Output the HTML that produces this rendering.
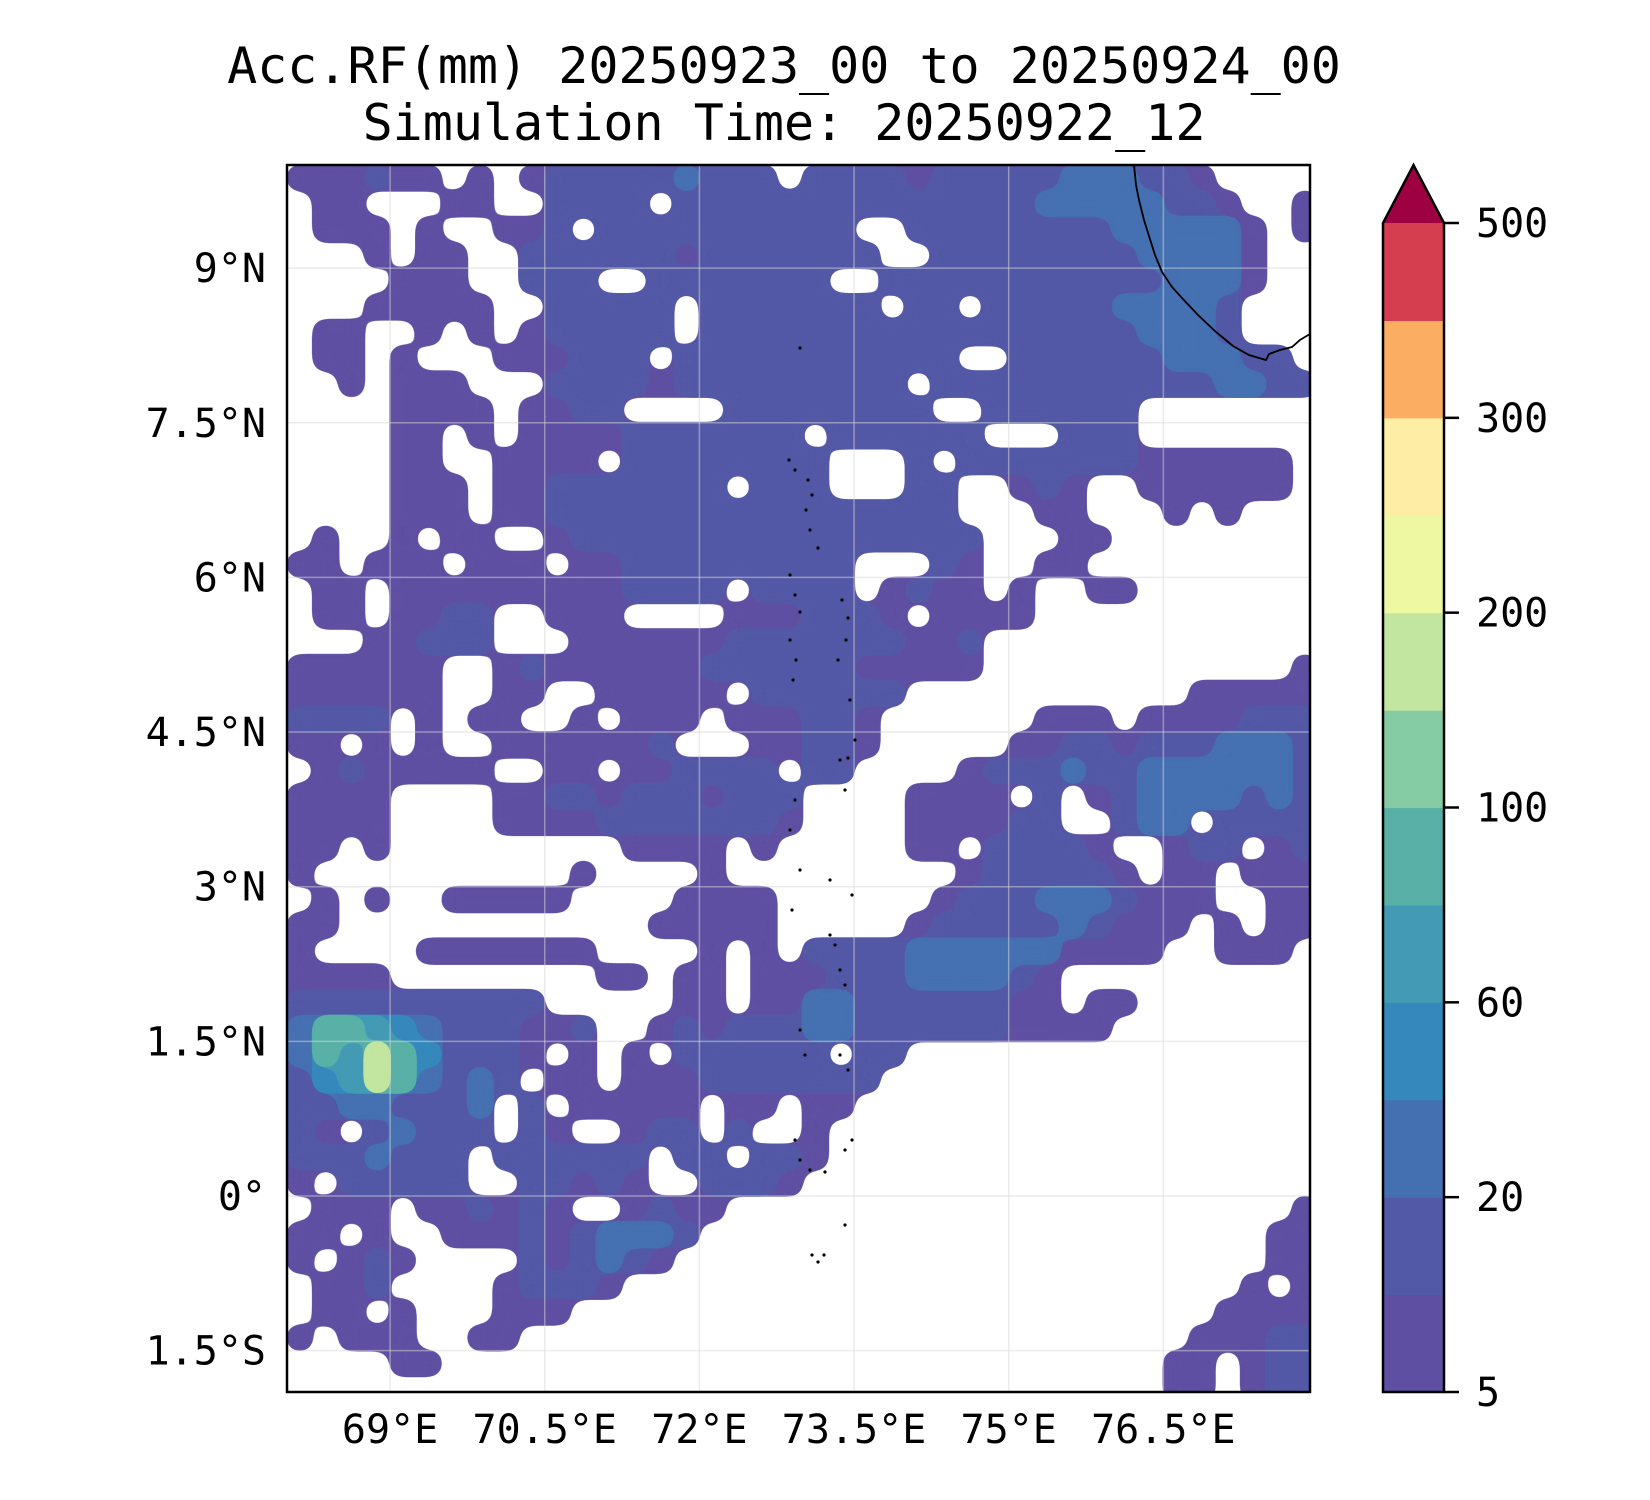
<!DOCTYPE html>
<html>
<head>
<meta charset="utf-8">
<style>
html,body{margin:0;padding:0;background:#fff;}
svg{display:block;}
text{font-family:"DejaVu Sans Mono","Liberation Mono",monospace;fill:#000;}
</style>
</head>
<body>
<svg id="chart" width="1650" height="1500" viewBox="0 0 1650 1500" xmlns="http://www.w3.org/2000/svg">
  <defs>
    <clipPath id="axclip"><rect x="287" y="165" width="1023" height="1227"/></clipPath>
    <filter id="goo" filterUnits="userSpaceOnUse" x="250" y="130" width="1100" height="1300">
      <feGaussianBlur in="SourceGraphic" stdDeviation="8" result="b"/>
      <feComponentTransfer>
        <feFuncA type="linear" slope="30" intercept="-14"/>
      </feComponentTransfer>
    </filter>
  </defs>
  <text x="784" y="83" font-size="50" text-anchor="middle">Acc.RF(mm) 20250923_00 to 20250924_00</text>
  <text x="784" y="140" font-size="50" text-anchor="middle">Simulation Time: 20250922_12</text>
  <g id="map" clip-path="url(#axclip)">
    <g id="fields"></g>
    <g id="grid"></g>
    <g id="coast"></g>
  </g>
  <rect x="287" y="165" width="1023" height="1227" fill="none" stroke="#000" stroke-width="2.5"/>
  <g id="xlabels"></g>
  <g id="ylabels"></g>
  <g id="cbar"></g>
</svg>
<script>
const NS = "http://www.w3.org/2000/svg";
// grid: rows from lat 10 (top) downward in 0.25 deg steps; cols from lon 68 in 0.25 deg steps
const gridRows = [
"1112110101222223222022221222223332210000",
"0110001100222202222222222222233333221001",
"0111010011202222222222002222222233333101",
"0001011002222221222222200222222223333100",
"0000111002220022222220022222222222333100",
"0001111100222220222222202202222233332000",
"0110010101222220222222222222222223332000",
"0110100011122202222222222200222222333220",
"0010111000222212222222220222222222223322",
"0000111101122000022222222002222220000000",
"0000110101111222222202222220002220000000",
"0000110011110222222220002022222221111110",
"0000111011222222202220002200121001111110",
"0000111011222222222222222200011000101000",
"0100101100122222222222222220001100000000",
"1101110111011222222222000210011000000000",
"0110111111111222202222012110100110000000",
"0110112200111000011122210111100000000000",
"0001122200011111122222221120000000000000",
"1111110012111111222222111110000000000001",
"1111110011001111102222220000000000011111",
"2222010110010111011122100000011101111222",
"1101010011111120001122100000112212223332",
"0121111100110112222022000012223223333332",
"1111000011221222122200001111020123333232",
"1111000011112222222100001111220023302222",
"1101000000000111101000001102222100122012",
"1000000000010000100000000012222210110111",
"0101001111100001111000000122233321110011",
"1100000000000011111000001222223211101011",
"1000011111110000101022223333331111001110",
"1111000000001101101112223333210000000000",
"2222222222000001101133222222110110000000",
"3665432221120012122233222222111100000000",
"3658642221010102222220220000000000000000",
"2458632320110111222222200000000000000000",
"2233222302011111011011000000000000000000",
"2102322202100122020010000000000000000000",
"2223222022222202202210000000000000000000",
"1022222002212100222100000000000000000000",
"0111011212100121100000000000000000000001",
"1101001112123332000000000000000000000011",
"1012100002123210000000000000000000000011",
"0112000012221000000000000000000000000101",
"0110100011100000000000000000000000001111",
"1011100110000000000000000000000000011122",
"0000110000000000000000000000000000110122",
"0000000000000000000000000000000000110122"
];
const levelColors = ["#5e4fa2","#5259a6","#4470b1","#3488bc","#439ab4","#58b0a6","#85cca5","#c2e59f","#eef8a3","#feeea5","#fbae61","#d53e4f"];
const extendColor = "#9e0142";
const cbarTicks = [5,20,60,100,200,300,500];
const cbarTickBins = [0,2,4,6,8,10,12];
const lonTicks = [69,70.5,72,73.5,75,76.5];
const lonLabels = ["69°E","70.5°E","72°E","73.5°E","75°E","76.5°E"];
const latTicks = [9,7.5,6,4.5,3,1.5,0,-1.5];
const latLabels = ["9°N","7.5°N","6°N","4.5°N","3°N","1.5°N","0°","1.5°S"];
const lonMin = 68, latMax = 10, cellDeg = 0.25;

const pxPerDeg = 103.1;
function xOf(lon){ return 287 + (lon - lonMin) * pxPerDeg; }
function yOf(lat){ return 165 + (latMax - lat) * pxPerDeg; }

const fields = document.getElementById('fields');
const nLev = 12;
for (let k = 1; k <= nLev; k++) {
  const g = document.createElementNS(NS, 'g');
  
  
  g.setAttribute('fill', levelColors[k-1]);
  g.setAttribute('filter', 'url(#goo)');
  let count = 0;
  gridRows.forEach((row, r) => {
    for (let c = 0; c < row.length; c++) {
      const v = parseInt(row[c], 10);
      if (v >= k) {
        const lon0 = lonMin + c * cellDeg, lat0 = latMax - r * cellDeg;
        const x0 = xOf(lon0), y0 = yOf(lat0);
        const w = xOf(lon0 + cellDeg) - x0, h = yOf(lat0 - cellDeg) - y0;
        const rc = document.createElementNS(NS, 'rect');
        rc.setAttribute('x', (x0 - 0.5).toFixed(1));
        rc.setAttribute('y', (y0 - 0.5).toFixed(1));
        rc.setAttribute('width', (w + 1).toFixed(1));
        rc.setAttribute('height', (h + 1).toFixed(1));
        
        
        g.appendChild(rc);
        count++;
      }
    }
  });
  if (count) fields.appendChild(g);
}

const grid = document.getElementById('grid');
lonTicks.forEach(lon => {
  const l = document.createElementNS(NS, 'line');
  l.setAttribute('x1', xOf(lon)); l.setAttribute('x2', xOf(lon));
  l.setAttribute('y1', 165); l.setAttribute('y2', 1392);
  l.setAttribute('stroke', '#d8d8d8'); l.setAttribute('stroke-width', '1.5'); l.setAttribute('stroke-opacity', '0.5');
  
  
  grid.appendChild(l);
});
latTicks.forEach(lat => {
  const l = document.createElementNS(NS, 'line');
  l.setAttribute('y1', yOf(lat)); l.setAttribute('y2', yOf(lat));
  l.setAttribute('x1', 287); l.setAttribute('x2', 1310);
  l.setAttribute('stroke', '#d8d8d8'); l.setAttribute('stroke-width', '1.5'); l.setAttribute('stroke-opacity', '0.5');
  
  
  grid.appendChild(l);
});

const coast = document.getElementById('coast');
const cp = document.createElementNS(NS, 'path');
cp.setAttribute('d', 'M1134,165 L1136,185 L1139,200 L1144,220 L1149,236 L1155,255 L1162,272 L1172,287 L1182,298 L1198,315 L1216,332 L1233,346 L1249,355 L1266,360 L1269,354 L1280,350 L1292,347 L1300,340 L1310,334');
cp.setAttribute('fill', 'none'); cp.setAttribute('stroke', '#000'); cp.setAttribute('stroke-width', '1.8');


coast.appendChild(cp);
const dots = [[789,460],[795,470],[808,480],[812,495],[806,510],[810,530],[818,548],[790,575],[795,595],[800,612],[842,600],[848,618],[790,640],[796,660],[793,680],[846,640],[838,660],[850,700],[855,740],[840,760],[848,758],[845,790],[795,800],[790,830],[800,870],[830,880],[792,910],[852,895],[830,935],[835,945],[840,970],[845,985],[800,1030],[805,1055],[840,1055],[848,1070],[852,1140],[795,1140],[800,1160],[810,1170],[825,1172],[845,1150],[845,1225],[812,1255],[818,1262],[824,1255],[800,348]];
dots.forEach(d => {
  const c = document.createElementNS(NS, 'circle');
  c.setAttribute('cx', d[0]); c.setAttribute('cy', d[1]); c.setAttribute('r', '1.6');
  c.setAttribute('fill', '#000');
  
  
  coast.appendChild(c);
});

const xl = document.getElementById('xlabels');
lonTicks.forEach((lon, i) => {
  const t = document.createElementNS(NS, 'text');
  t.setAttribute('x', xOf(lon)); t.setAttribute('y', 1443);
  t.setAttribute('font-size', '40'); t.setAttribute('text-anchor', 'middle');
  
  
  t.textContent = lonLabels[i];
  xl.appendChild(t);
});
const yl = document.getElementById('ylabels');
latTicks.forEach((lat, i) => {
  const t = document.createElementNS(NS, 'text');
  t.setAttribute('x', 266); t.setAttribute('y', yOf(lat) + 14);
  t.setAttribute('font-size', '40'); t.setAttribute('text-anchor', 'end');
  
  
  t.textContent = latLabels[i];
  yl.appendChild(t);
});

const cb = document.getElementById('cbar');
const cbX = 1383, cbW = 61, cbBottom = 1392, cbTop = 223;
const binH = (cbBottom - cbTop) / nLev;
levelColors.forEach((col, i) => {
  const r = document.createElementNS(NS, 'rect');
  r.setAttribute('x', cbX); r.setAttribute('y', (cbBottom - (i + 1) * binH).toFixed(1));
  r.setAttribute('width', cbW); r.setAttribute('height', (binH + 0.6).toFixed(1));
  r.setAttribute('fill', col);
  
  
  cb.appendChild(r);
});
const tri = document.createElementNS(NS, 'path');
tri.setAttribute('d', `M${cbX},${cbTop} L${cbX + cbW / 2},165 L${cbX + cbW},${cbTop} Z`);
tri.setAttribute('fill', extendColor);


cb.appendChild(tri);
const outline = document.createElementNS(NS, 'path');
outline.setAttribute('d', `M${cbX},${cbBottom} L${cbX},${cbTop} L${cbX + cbW / 2},165 L${cbX + cbW},${cbTop} L${cbX + cbW},${cbBottom} Z`);
outline.setAttribute('fill', 'none'); outline.setAttribute('stroke', '#000'); outline.setAttribute('stroke-width', '2.5');


cb.appendChild(outline);
cbarTicks.forEach((v, i) => {
  const y = cbBottom - cbarTickBins[i] * binH;
  const l = document.createElementNS(NS, 'line');
  l.setAttribute('x1', cbX + cbW); l.setAttribute('x2', cbX + cbW + 15);
  l.setAttribute('y1', y); l.setAttribute('y2', y);
  l.setAttribute('stroke', '#000'); l.setAttribute('stroke-width', '2.5');
  
  
  cb.appendChild(l);
  const t = document.createElementNS(NS, 'text');
  t.setAttribute('x', 1476); t.setAttribute('y', y + 14);
  t.setAttribute('font-size', '40');
  
  
  t.textContent = v;
  cb.appendChild(t);
});
</script>
</body>
</html>
